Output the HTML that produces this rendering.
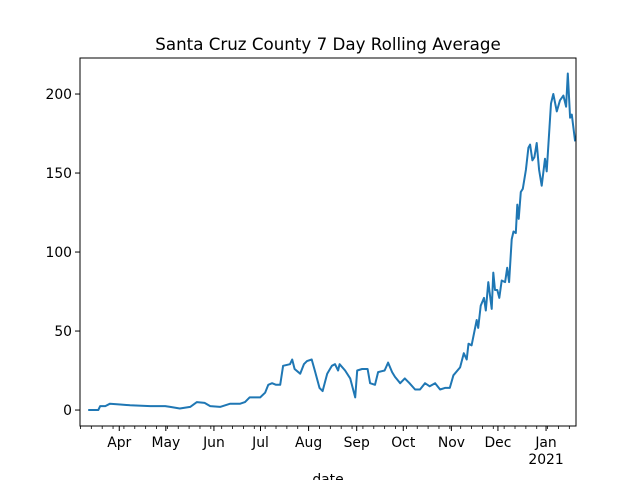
<!DOCTYPE html>
<html><head><meta charset="utf-8"><style>
body{margin:0;background:#fff}
svg text{font-family:"DejaVu Sans","Liberation Sans",sans-serif}
</style></head><body>
<svg id="c" width="640" height="480" xmlns="http://www.w3.org/2000/svg">
<rect width="640" height="480" fill="#fff"/>
<text x="328" y="50" font-size="16.7" text-anchor="middle">Santa Cruz County 7 Day Rolling Average</text>
</svg>
<script>
// days since 2020-03-01
const days=[11,17.5,18.7,22,25,31.6,38,51,60.6,63.8,70,76.7,81,86,89.6,96,102.5,108.9,112,115,118.6,121.8,125,127,129.5,132,134.7,136.6,141,142.4,144,147.6,150,152,155,157,160,162,165,168,170,172,173,176.5,179.8,183,184.3,187.5,191,192.6,195.8,197.8,202,204.2,206.8,208.7,212,215,218,221.6,224.8,228,231,234.5,237.7,240.9,244,246.3,250.6,253,254.9,256,258,261.3,262.3,263.9,266,267.2,268.8,271,272,273.1,274.6,275.9,277.4,279.6,281,282.2,283.9,285,286.5,287.5,288.4,289.7,291,293,294.6,295.7,297.2,298.5,300,301.5,303.2,305.3,306.4,309.2,310.7,312.9,315,317.2,318.9,320,321.5,322.6,324.7];
const values=[0,0,2.5,2.5,4,3.5,3,2.5,2.5,2,1,2,5,4.5,2.5,2,4,4,5,8,8,8,11,16,17,16,16,28,29,32,26,23,29,31,32,25,14,12,23,28,29,25,29,25,20,8,25,26,26,17,16,24,25,30,24,21,17,20,17,13,13,17,15,17,13,14,14,22,27,36,32,42,41,57,52,66,71,63,81,64,87,76,76,71,82,81,90,81,108,113,112,130,121,138,140,152,166,168,158,160,169,152,142,159,151,194,200,189,196,199,192,213,185,187,170];
const yTicks=[0,50,100,150,200];
const monthLabels=["Apr","May","Jun","Jul","Aug","Sep","Oct","Nov","Dec","Jan"];
const monthDays=[31,61,92,122,153,184,214,245,275,306];
const X0=80,X1=576,Y0=58,Y1=426,dMin=5.7,dMax=325.3,vMin=-10.1,vMax=222.8;
const sx=d=>X0+(d-dMin)/(dMax-dMin)*(X1-X0);
const sy=v=>Y1-(v-vMin)/(vMax-vMin)*(Y1-Y0);
const svg=document.getElementById('c');const NS="http://www.w3.org/2000/svg";
function mk(t,a,p){const e=document.createElementNS(NS,t);for(const k in a)e.setAttribute(k,a[k]);(p||svg).appendChild(e);return e;}
let pts=days.map((d,i)=>sx(d).toFixed(1)+","+sy(values[i]).toFixed(1)).join(" ");
const line=mk('polyline',{points:pts,fill:"none",stroke:"#1f77b4","stroke-width":2,"stroke-linejoin":"round"});


const fr=mk('rect',{x:X0,y:Y0,width:X1-X0,height:Y1-Y0,fill:"none",stroke:"#000","stroke-width":1});


yTicks.forEach(v=>{const y=sy(v);mk('line',{x1:X0-5,x2:X0,y1:y,y2:y,stroke:"#000","stroke-width":1});
const t=mk('text',{x:X0-8,y:y+5,"font-size":13.9,"text-anchor":"end"});t.textContent=v;

});
for(let d=6;d<dMax;d+=7){const x=sx(d);mk('line',{x1:x,x2:x,y1:Y1,y2:Y1+3,stroke:"#000","stroke-width":0.8});}
monthDays.forEach((d,i)=>{const x=sx(d);mk('line',{x1:x,x2:x,y1:Y1,y2:Y1+5,stroke:"#000","stroke-width":1});
const t=mk('text',{x:x,y:Y1+21,"font-size":13.9,"text-anchor":"middle"});t.textContent=monthLabels[i];

});
const yr=mk('text',{x:sx(306),y:Y1+38,"font-size":13.9,"text-anchor":"middle"});yr.textContent="2021";


const xl=mk('text',{x:328,y:484,"font-size":13.9,"text-anchor":"middle"});xl.textContent="date";


</script>
</body></html>
